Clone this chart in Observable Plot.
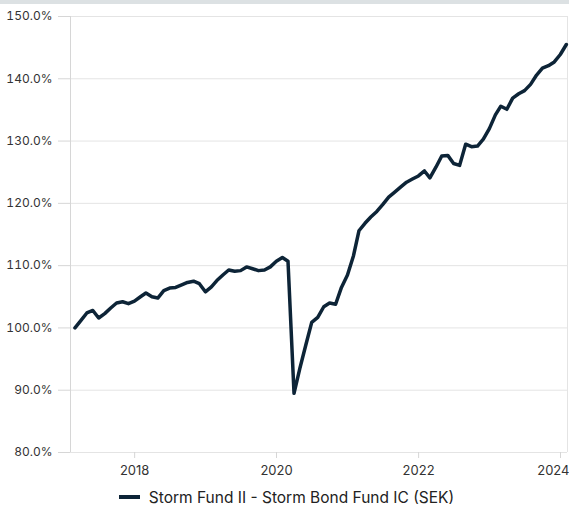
<!DOCTYPE html>
<html><head><meta charset="utf-8">
<script src="https://cdn.jsdelivr.net/npm/d3@7"></script>
<script src="https://cdn.jsdelivr.net/npm/@observablehq/plot@0.6"></script>
<style>
html,body{margin:0;padding:0;background:#fff;font-family:Inter,sans-serif;}
#bar{height:4px;background:#dce1e3;}
#chart svg{display:block;}
#legend{display:flex;justify-content:center;align-items:center;height:30px;font-size:15.5px;color:#222;font-family:Inter,sans-serif;padding-left:4px;}
#legend .sw{display:inline-block;width:21px;height:4px;background:#0d2437;margin-right:9px;}
</style></head><body>
<div id="bar"></div>
<div id="chart"></div>
<div id="legend"><span class="sw"></span><span id="lt"></span></div>
<script>
const seriesName = "Storm Fund II - Storm Bond Fund IC (SEK)";
const firstMonth = [2017, 2]; // month-end values starting Feb 2017
const values = [
  100.0, 101.2, 102.4, 102.8, 101.6, 102.3, 103.2, 104.0, 104.2, 103.9, 104.3,
  105.0, 105.6, 105.0, 104.8, 106.0, 106.4, 106.5, 106.9, 107.3, 107.5, 107.1,
  105.8, 106.6, 107.6, 108.5, 109.3, 109.1, 109.2, 109.8, 109.5, 109.2, 109.3,
  109.8, 110.7, 111.3, 110.7, 89.5, 93.5, 97.3, 100.9, 101.7, 103.4, 104.0,
  103.8, 106.5, 108.5, 111.6, 115.6, 116.8, 117.8, 118.7, 119.8, 121.0, 121.8,
  122.6, 123.4, 123.9, 124.4, 125.2, 124.1, 125.8, 127.6, 127.7, 126.4, 126.1,
  129.5, 129.1, 129.2, 130.3, 132.0, 134.2, 135.6, 135.1, 136.9, 137.6, 138.1,
  139.1, 140.6, 141.7, 142.1, 142.7, 143.9, 145.5
];
const yTicks = [80, 90, 100, 110, 120, 130, 140, 150];
const xTickYears = [2018, 2020, 2022, 2024];
const xDomain = [new Date("2017-02-05"), new Date("2024-02-06")];

const data = values.map((v, i) => ({
  date: new Date(Date.UTC(firstMonth[0], firstMonth[1] + i, 0)),
  value: v
}));
const xTicks = xTickYears.map(y => new Date(Date.UTC(y, 0, 1)));

document.getElementById("lt").textContent = seriesName;

const chart = Plot.plot({
  width: 569,
  height: 478,
  marginTop: 12,
  marginBottom: 30,
  marginLeft: 70,
  marginRight: 2,
  style: {fontFamily: "Inter, sans-serif", fontSize: "12px", color: "#333", background: "#fff"},
  x: {type: "utc", domain: xDomain},
  y: {domain: [80, 150]},
  marks: [
    Plot.gridY(yTicks, {stroke: "#e4e4e4", strokeOpacity: 1}),
    Plot.ruleX([xDomain[0]], {stroke: "#d6d6d6"}),
    Plot.ruleX([xDomain[1]], {stroke: "#e4e4e4"}),
    Plot.axisY({ticks: yTicks, tickSize: 12, tickPadding: 6, stroke: "#d6d6d6", fill: "#333",
      tickFormat: d => d.toFixed(1) + "%", fontSize: 12, label: null}),
    Plot.axisX({ticks: xTicks, tickSize: 6, stroke: "#d6d6d6", tickFormat: () => "", label: null}),
    Plot.text(xTicks.slice(0, 3), {x: d => d, y: 80, text: d => String(d.getUTCFullYear()),
      lineAnchor: "top", dy: 13, fill: "#333", fontSize: 13}),
    Plot.text(xTicks.slice(3), {x: d => d, y: 80, text: d => String(d.getUTCFullYear()),
      lineAnchor: "top", dy: 13, dx: 9, textAnchor: "end", fill: "#333", fontSize: 13}),
    Plot.lineY(data, {x: "date", y: "value", stroke: "#0d2437", strokeWidth: 3.5,
      strokeLinejoin: "round", strokeLinecap: "round"})
  ]
});
document.getElementById("chart").append(chart);
</script>
</body></html>
